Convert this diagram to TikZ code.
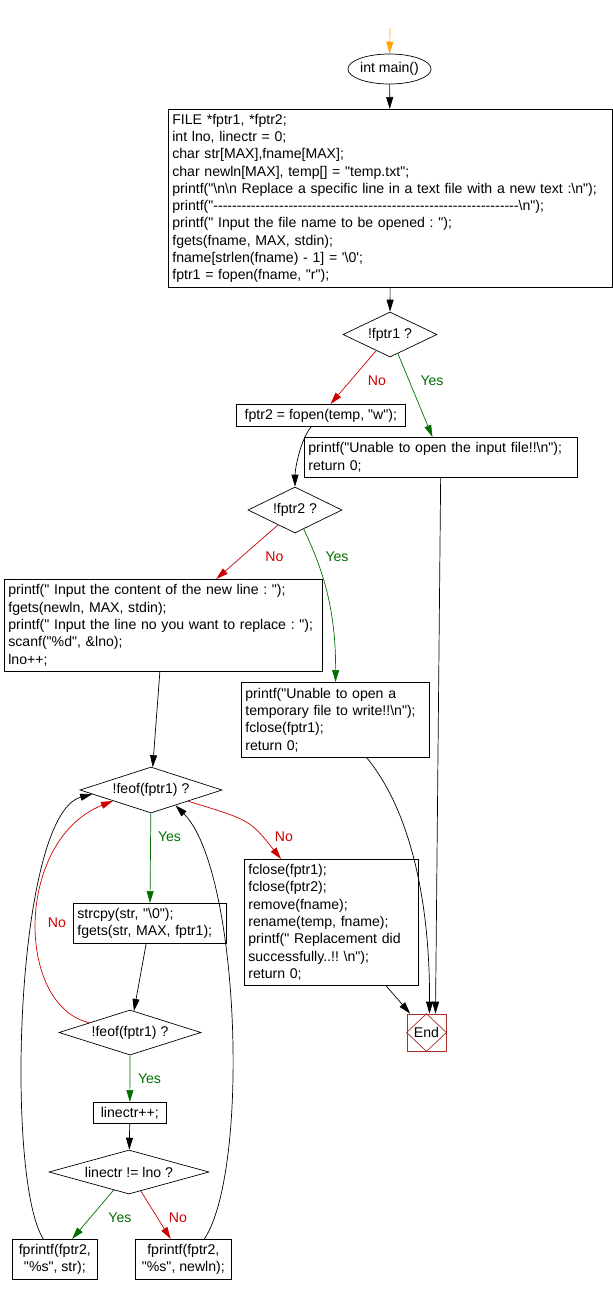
\documentclass[tikz,border=0pt]{standalone}
\usepackage{fontspec}
\newfontfamily\chartfont{Liberation Sans}
\usetikzlibrary{shapes.geometric,arrows.meta}
\definecolor{nored}{RGB}{204,0,0}
\definecolor{yesgreen}{RGB}{0,110,0}
\definecolor{endred}{RGB}{170,45,45}
\definecolor{startorange}{RGB}{255,165,0}
\newcommand{\bsl}{\textbackslash}
\frenchspacing

\begin{document}
\begin{tikzpicture}[x=1pt, y=-1pt, font=\chartfont\fontsize{14.1}{17.3}\selectfont,
    line width=0.7pt, >={Triangle[length=12pt,width=7pt]}]
    \tikzstyle{startstop} = [ellipse, draw=black, minimum width=81pt, minimum height=30pt, inner sep=0pt]
    \tikzstyle{process} = [rectangle, draw=black, anchor=north west, align=left, inner xsep=4pt, inner ysep=2pt]
    \tikzstyle{decision} = [diamond, draw=black, aspect=3, inner sep=0pt]
    \tikzstyle{stopbox} = [rectangle, draw=endred, minimum width=39pt, minimum height=37pt, inner sep=0pt]
    \tikzstyle{yeslabel} = [text=yesgreen, inner sep=0pt]
    \tikzstyle{nolabel} = [text=nored, inner sep=0pt]
    \useasboundingbox (0,0) rectangle (613,1294);

    \coordinate (entry) at (390,28);
    \node (main) [startstop] at (389.5,69) {int main()};
    \node (init) [process, text width=436pt, minimum height=178pt] at (168,109) {FILE *fptr1, *fptr2;\\
        int lno, linectr = 0;\\
        char str[MAX],fname[MAX];\\
        char newln[MAX], temp[] = "temp.txt";\\
        printf("\bsl n\bsl n Replace a specific line in a text file with a new text :\bsl n");\\
        printf("-----------------------------------------------------------------\bsl n");\\
        printf(" Input the file name to be opened : ");\\
        fgets(fname, MAX, stdin);\\
        fname[strlen(fname) - 1] = '\bsl 0';\\
        fptr1 = fopen(fname, "r");};
    \node (d1) [decision, minimum width=94pt, minimum height=45pt] at (390,334.5) {!fptr1 ?};
    \node (open2) [process, minimum width=169pt, minimum height=22pt] at (236,404) {fptr2 = fopen(temp, "w");};
    \node (unable1) [process, text width=265pt, minimum height=40pt] at (304,437) {printf("Unable to open the input file!!\bsl n");\\
        return 0;};
    \node (d2) [decision, minimum width=94pt, minimum height=46pt] at (295,510) {!fptr2 ?};
    \node (input) [process, text width=310pt, minimum height=92pt] at (4,579) {printf(" Input the content of the new line : ");\\
        fgets(newln, MAX, stdin);\\
        printf(" Input the line no you want to replace : ");\\
        scanf("\%d", \&lno);\\
        lno++;};
    \node (unable2) [process, text width=180pt, minimum height=75pt] at (241,682) {printf("Unable to open a\\
        temporary file to write!!\bsl n");\\
        fclose(fptr1);\\
        return 0;};
    \node (d3) [decision, minimum width=142pt, minimum height=46pt] at (151,790) {!feof(fptr1) ?};
    \node (strcpy) [process, text width=145pt, minimum height=40pt] at (73,903) {strcpy(str, "\bsl 0");\\
        fgets(str, MAX, fptr1);};
    \node (fclose) [process, text width=166pt, minimum height=126pt] at (244,859) {fclose(fptr1);\\
        fclose(fptr2);\\
        remove(fname);\\
        rename(temp, fname);\\
        printf(" Replacement did\\
        successfully..!! \bsl n");\\
        return 0;};
    \node (end) [stopbox] at (426.5,1032.5) {End};
    \node (d4) [decision, minimum width=142pt, minimum height=45pt] at (130,1032.5) {!feof(fptr1) ?};
    \node (linectr) [process, minimum width=73pt, minimum height=21pt] at (93,1102) {linectr++;};
    \node (d5) [decision, minimum width=160pt, minimum height=44pt] at (129,1172) {linectr != lno ?};
    \node (fp1) [process, align=center, minimum width=85pt, minimum height=40pt] at (12,1239) {fprintf(fptr2,\\ "\%s", str);};
    \node (fp2) [process, align=center, minimum width=96pt, minimum height=40pt] at (135,1239) {fprintf(fptr2,\\ "\%s", newln);};

    % branch labels
    \node (no1) [nolabel] at (377,381) {No};
    \node (yes1) [yeslabel] at (432,381) {Yes};
    \node (no2) [nolabel] at (274.5,557) {No};
    \node (yes2) [yeslabel] at (337,557) {Yes};
    \node (yes3) [yeslabel] at (169.5,837) {Yes};
    \node (no3) [nolabel] at (284,837) {No};
    \node (no4) [nolabel] at (57,923) {No};
    \node (yes4) [yeslabel] at (149.5,1079) {Yes};
    \node (yes5) [yeslabel] at (120,1218) {Yes};
    \node (no5) [nolabel] at (178,1218) {No};

    \draw[endred] (end.north) -- (end.east) -- (end.south) -- (end.west) -- cycle;

    \draw[->, startorange] (entry) -- (main);
    \draw[->] (main) -- (init);
    \draw[->] (init) -- (d1);
    \draw[->, nored] (d1) -- (open2);
    \draw[->, yesgreen] (d1) -- (unable1);
    \draw[->] (open2) .. controls (300,440) and (295,470) .. (d2);
    \draw[->, nored] (d2) -- (input);
    \draw[->, yesgreen] (d2) .. controls (318,560) and (336,600) .. (unable2);
    \draw[->] (input) -- (d3);
    \draw[->, yesgreen] (d3) -- (strcpy);
    \draw[->, nored] (d3) .. controls (250,820) .. (fclose);
    \draw[->] (strcpy) -- (d4);
    \draw[->, nored] (d4) .. controls (15,1005) and (15,840) .. (d3.196);
    \draw[->, yesgreen] (d4) -- (linectr);
    \draw[->] (linectr) -- (d5);
    \draw[->, yesgreen] (d5) -- (fp1);
    \draw[->, nored] (d5) -- (fp2);
    \draw[->] ([xshift=-11.5pt]fp1.north) .. controls (5,1180) and (15,815) .. (d3.184);
    \draw[->] ([xshift=21pt]fp2.north) .. controls (250,1170) and (240,870) .. (d3.328);
    \draw[->] (fclose) -- (end);
    \draw[->] (unable1) -- ([xshift=9pt]end.north);
    \draw[->] (unable2) .. controls (410,810) and (430,900) .. ([xshift=3pt]end.north);
\end{tikzpicture}
\end{document}
